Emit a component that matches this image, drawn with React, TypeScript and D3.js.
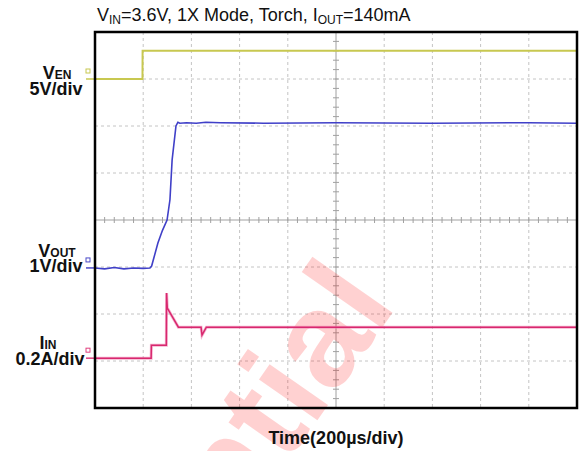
import React from 'react';
import * as d3 from 'd3';

// ---- data (time in µs, physical units per channel) ----
const venTime = [0, 197, 197.5, 2000];
const venVolts = [0, 0, 3.0, 3.0];

const voutTime = [0, 40, 80, 120, 160, 200, 228, 235, 261, 280, 299, 311, 320, 336, 344, 352, 380, 420, 460, 520, 700, 1000, 1400, 1800, 2000];
const voutVolts = [0, -0.02, 0.01, -0.02, 0.0, -0.01, 0.0, 0.04, 0.53, 0.8, 1.02, 1.45, 2.3, 3.02, 3.1, 3.08, 3.09, 3.08, 3.1, 3.09, 3.08, 3.09, 3.08, 3.09, 3.08];

const iinTime = [0, 233, 234, 296, 297, 300, 346, 440, 444, 462, 2000];
const iinAmps = [0, 0, 0.055, 0.055, 0.277, 0.213, 0.132, 0.132, 0.098, 0.132, 0.132];

const xDivs = d3.range(0, 11);
const yDivs = d3.range(-4, 5);

const timePerDiv = 200; // µs
const venPerDiv = 5; // V
const voutPerDiv = 1; // V
const iinPerDiv = 0.2; // A
const venOffset = 3.0; // div
const voutOffset = -1.02;
const iinOffset = -2.94;

const W = 579;
const H = 451;
const L = 95, R = 577, T = 32, B = 408;

export default function App() {
  const x = d3.scaleLinear().domain([0, 10 * timePerDiv]).range([L, R]);
  const y = d3.scaleLinear().domain([-4, 4]).range([B, T]);

  const mkLine = (times: number[], vals: number[], perDiv: number, off: number) =>
    d3.line<number>()
      .x((_, i) => x(times[i]))
      .y((v) => y(off + v / perDiv))(vals) as string;

  const venPath = mkLine(venTime, venVolts, venPerDiv, venOffset);
  const voutPath = mkLine(voutTime, voutVolts, voutPerDiv, voutOffset);
  const iinPath = mkLine(iinTime, iinAmps, iinPerDiv, iinOffset);

  const minorX = d3.range(0, 50.01, 1).map((d) => d / 5);
  const minorY = d3.range(0, 40.01, 1).map((d) => d / 5 - 4);

  const font = 'Arial, "Liberation Sans", sans-serif';
  const markers = [
    { off: venOffset, color: '#c8c850' },
    { off: voutOffset, color: '#4a4ac8' },
    { off: iinOffset, color: '#e0407e' },
  ];

  return (
    <svg width={W} height={H} style={{ position: 'absolute', left: 0, top: 0, background: '#fff' }} fontFamily={font}>
      <rect x={0} y={0} width={W} height={H} fill="#fff" />
      {/* grid */}
      <g stroke="#c4c4c4" strokeWidth={1} strokeDasharray="3,3">
        {xDivs.filter((d) => d > 0 && d < 10 && d !== 5).map((d) => (
          <line key={'vx' + d} x1={x(d * timePerDiv)} x2={x(d * timePerDiv)} y1={T} y2={B} />
        ))}
        {yDivs.filter((d) => d > -4 && d < 4 && d !== 0).map((d) => (
          <line key={'hy' + d} x1={L} x2={R} y1={y(d)} y2={y(d)} />
        ))}
      </g>
      <g stroke="#a0a0a0" strokeWidth={1}>
        <line x1={x(5 * timePerDiv)} x2={x(5 * timePerDiv)} y1={T} y2={B} />
        <line x1={L} x2={R} y1={y(0)} y2={y(0)} />
        {minorX.map((d, i) => (
          <line key={'tx' + i} x1={x(d * timePerDiv)} x2={x(d * timePerDiv)} y1={y(0) - 3} y2={y(0) + 3} />
        ))}
        {minorY.map((d, i) => (
          <line key={'ty' + i} x1={x(5 * timePerDiv) - 3} x2={x(5 * timePerDiv) + 3} y1={y(d)} y2={y(d)} />
        ))}
      </g>

      {/* watermark */}
      <text
        transform="translate(398,305) rotate(-55)"
        textAnchor="end"
        fontSize={135}
        fontWeight="bold"
        fill="#ff0000"
        fillOpacity={0.18}
      >
        Confidential
      </text>

      {/* traces */}
      <path d={venPath} fill="none" stroke="#c8c850" strokeWidth={2} />
      <path d={voutPath} fill="none" stroke="#4040c8" strokeWidth={1.6} />
      <path d={iinPath} fill="none" stroke="#f080b0" strokeWidth={3} strokeOpacity={0.6} />
      <path d={iinPath} fill="none" stroke="#d8286e" strokeWidth={1.5} />

      {/* ground markers */}
      {markers.map((m, i) => (
        <g key={'m' + i}>
          <rect x={86} y={y(m.off) - 10} width={4} height={4} fill="none" stroke={m.color} strokeWidth={1} />
          <line x1={86} x2={L} y1={y(m.off)} y2={y(m.off)} stroke={m.color} strokeWidth={1.5} />
        </g>
      ))}

      {/* frame */}
      <rect x={L} y={T} width={R - L} height={B - T} fill="none" stroke="#000" strokeWidth={2.5} />

      {/* title */}
      <text x={97} y={21} fontSize={18} fill="#111">
        V<tspan fontSize={12} dy={3}>IN</tspan>
        <tspan dy={-3}>=3.6V, 1X Mode, Torch, I</tspan>
        <tspan fontSize={12} dy={3}>OUT</tspan>
        <tspan dy={-3}>=140mA</tspan>
      </text>

      {/* channel labels */}
      <g fontWeight="bold" fontSize={18} fill="#111" textAnchor="middle">
        <text x={57} y={79}>V<tspan fontSize={12}>EN</tspan></text>
        <text x={56} y={95}>5V/div</text>
        <text x={57} y={257}>V<tspan fontSize={12}>OUT</tspan></text>
        <text x={56} y={272}>1V/div</text>
        <text x={48} y={349}>I<tspan fontSize={12}>IN</tspan></text>
        <text x={50} y={365}>0.2A/div</text>
        <text x={336} y={444}>Time(200µs/div)</text>
      </g>
    </svg>
  );
}
